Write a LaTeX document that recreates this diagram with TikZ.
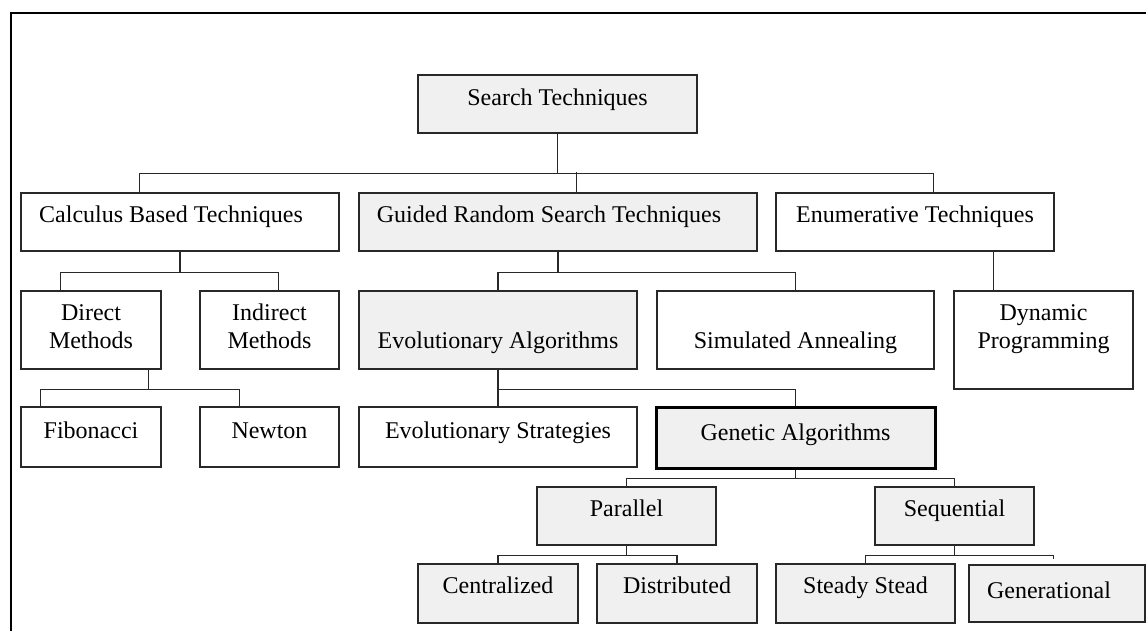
\documentclass[tikz,border=0pt]{standalone}
\usepackage{fontspec}
\setmainfont{Liberation Serif}
\usepackage{tikz}
\definecolor{bg}{RGB}{240, 240, 240}
\definecolor{ln}{RGB}{40, 40, 40}
\usetikzlibrary{calc}
\tikzset{
  box/.style={rectangle, draw=ln, line width=0.6pt, inner xsep=0pt, inner ysep=0pt, align=center, font=\fontsize{12}{14}\selectfont},
  greybox/.style={box, fill=bg},
  conn/.style={draw=ln, line width=0.6pt},
}

\begin{document}
\begin{tikzpicture}[x=0.5pt, y=-0.5pt]
\useasboundingbox (0,0) rectangle (1146,631);
\draw [line width=0.8pt, color=black] (11,640) -- (11,13) -- (1150,13);
% level 0 and 1
\node (search) [greybox, minimum width=139.5pt, text height=15.5pt, text depth=13.5pt] at (557.5, 104) {Search Techniques};
\node (calc) [box, minimum width=159pt, text height=14.5pt, text depth=14.5pt] at (180, 222) {Calculus Based Techniques\kern9pt};
\node (grst) [greybox, minimum width=199pt, text height=14.5pt, text depth=14.5pt] at (558, 222) {Guided Random Search Techniques\kern9pt};
\node (enum) [box, minimum width=139pt, text height=14.5pt, text depth=14.5pt] at (915, 222) {Enumerative Techniques};
% level 2
\node (direct) [box, minimum width=70pt, text height=28.5pt, text depth=10.5pt] at (91, 330) {Direct\\Methods};
\node (indirect) [box, minimum width=69.5pt, text height=28.5pt, text depth=10.5pt] at (269.5, 330) {Indirect\\Methods};
\node (evo) [greybox, minimum width=139pt, text height=28.5pt, text depth=10.5pt] at (498, 330) {Evolutionary Algorithms};
\node (sima) [box, minimum width=138.5pt, text height=28.5pt, text depth=10.5pt] at (795.5, 330) {Simulated Annealing};
\node (dyn) [box, minimum width=89.5pt, text height=28.5pt, text depth=20.5pt] at (1043.5, 340) {Dynamic\\Programming};
% level 3
\node (fib) [box, minimum width=70pt, text height=15.5pt, text depth=14.5pt] at (91, 437) {Fibonacci};
\node (newton) [box, minimum width=69.5pt, text height=15.5pt, text depth=14.5pt] at (269.5, 437) {Newton};
\node (evs) [box, minimum width=139pt, text height=15.5pt, text depth=14.5pt] at (498, 437) {Evolutionary Strategies};
\node (ga) [greybox, line width=1.5pt, draw=black, minimum width=139.5pt, text height=16.5pt, text depth=14pt] at (795.5, 437.5) {Genetic Algorithms};
% level 4 and 5
\node (par) [greybox, minimum width=89.5pt, text height=14.5pt, text depth=14.5pt] at (626.5, 516) {Parallel};
\node (seq) [greybox, minimum width=79.5pt, text height=14.5pt, text depth=14.5pt] at (954.5, 516) {Sequential};
\node (cent) [greybox, minimum width=80pt, text height=14.5pt, text depth=15pt] at (498, 593.5) {Centralized};
\node (dist) [greybox, minimum width=80pt, text height=14.5pt, text depth=15pt] at (677, 593.5) {Distributed};
\node (steady) [greybox, minimum width=89.5pt, text height=14.5pt, text depth=15pt] at (865.5, 593.5) {Steady Stead};
\node (gen) [greybox, minimum width=88pt, text height=16.5pt, text depth=12pt] at (1057, 593.5) {Generational\kern8pt};
% connectors
\draw [conn] (search.south) -- ++(0,40) coordinate (b1);
\draw [conn] ($(calc.north west)+(119,0)$) |- (b1) -| ($(enum.north west)+(158,0)$);
\draw [conn] ($(grst.north west)+(218,0)$) -- ++(0,-20);
\draw [conn] (calc.south) -- ++(0,21) coordinate (b2);
\draw [conn] ($(direct.north west)+(40,0)$) |- (b2) -| ($(indirect.north west)+(79,0)$);
\draw [conn] ($(direct.south west)+(128,0)$) -- ++(0,20) coordinate (b3);
\draw [conn] ($(fib.north west)+(20,0)$) |- (b3) -| ($(newton.north west)+(40,0)$);
\draw [conn] (grst.south) -- ++(0,21) coordinate (b4);
\draw [conn] (evo.north) |- (b4) -| (sima.north);
\draw [conn] ($(dyn.north west)+(40,0)$) -- ++(0,-40);
\draw [conn] (evo.south) -- ++(0,20) coordinate (b5) -| (ga.north);
\draw [conn] (b5) -- (evs.north);
\draw [conn] (ga.south) -- ++(0,9) coordinate (b6);
\draw [conn] (par.north) |- (b6) -| (seq.north);
\draw [conn] (par.south) -- ++(0,10) coordinate (b7);
\draw [conn] (cent.north) |- (b7) -| (dist.north);
\draw [conn] (seq.south) -- ++(0,10) coordinate (b8);
\draw [conn] (steady.north) |- (b8) -| ($(gen.north west)+(85,-5)$);
\end{tikzpicture}
\end{document}
